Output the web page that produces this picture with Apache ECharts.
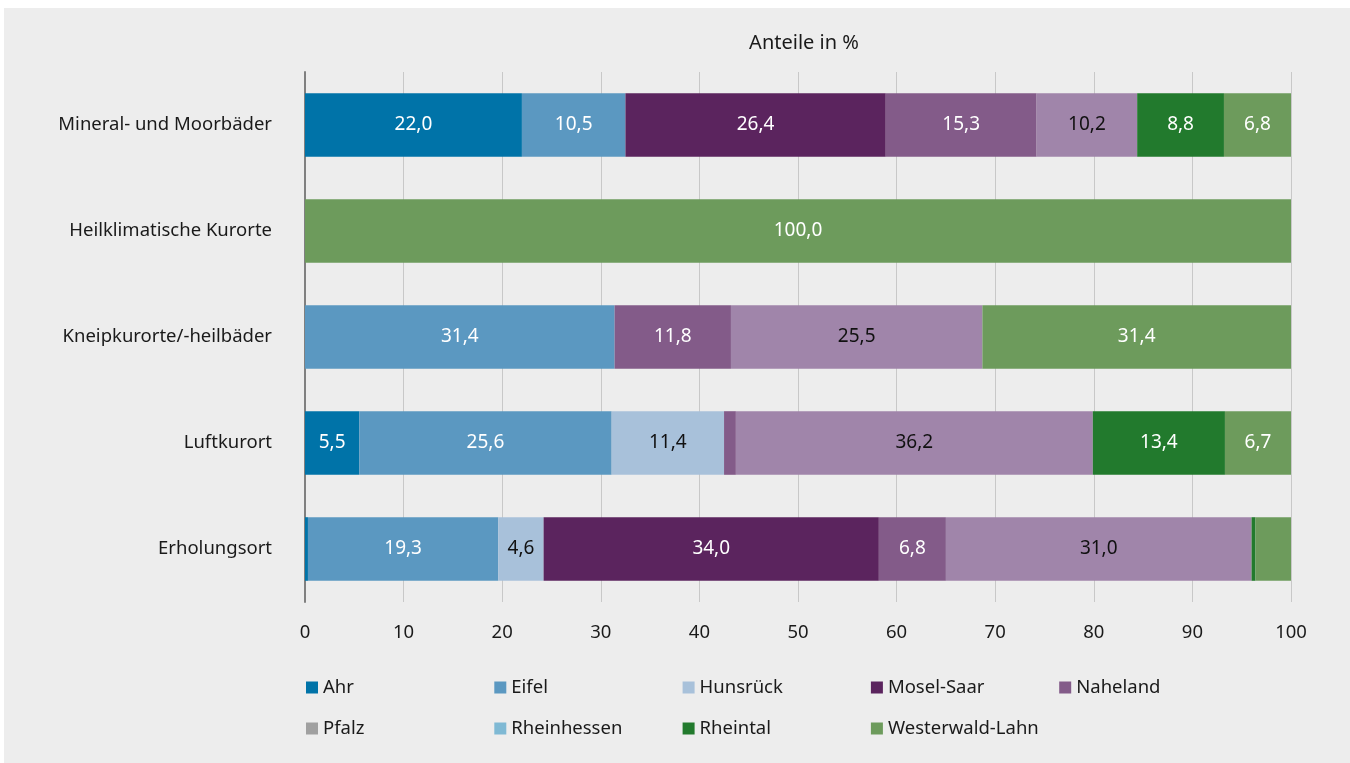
<!DOCTYPE html>
<html>
<head>
<meta charset="utf-8">
<script src="https://cdn.jsdelivr.net/npm/echarts@6/dist/echarts.min.js"></script>
<style>
html,body{margin:0;padding:0;background:#ffffff;}
#chart{position:absolute;left:4px;top:8px;width:1346px;height:755px;background:#ededed;}
</style>
</head>
<body>
<div id="chart"></div>
<script>
const categories = ['Mineral- und Moorbäder','Heilklimatische Kurorte','Kneipkurorte/-heilbäder','Luftkurort','Erholungsort'];
const seriesNames = ['Ahr','Eifel','Hunsrück','Mosel-Saar','Naheland','Pfalz','Rheinhessen','Rheintal','Westerwald-Lahn'];
const ahr        = [22.0, null, null, 5.5, 0.3];
const eifel      = [10.5, null, 31.4, 25.6, 19.3];
const hunsrueck  = [null, null, null, 11.4, 4.6];
const moselSaar  = [26.4, null, null, null, 34.0];
const naheland   = [15.3, null, 11.8, 1.2, 6.8];
const pfalz      = [10.2, null, 25.5, 36.2, 31.0];
const rheinhessen= [null, null, null, null, null];
const rheintal   = [8.8, null, null, 13.4, 0.4];
const westerwald = [6.8, 100.0, 31.4, 6.7, 3.7];
const xTicks = [0,10,20,30,40,50,60,70,80,90,100];

const values = [ahr, eifel, hunsrueck, moselSaar, naheland, pfalz, rheinhessen, rheintal, westerwald];
const barColors = ['#0073a8','#5b98c1','#a8c1da','#5b245e','#835b89','#a085aa','#7fb9d4','#227a2d','#6d9b5c'];
const legendColors = ['#0073a8','#5b98c1','#a8c1da','#5b245e','#835b89','#a0a0a0','#7fb9d4','#227a2d','#6d9b5c'];
const labelColors = ['#fff','#fff','#111','#fff','#fff','#111','#111','#fff','#fff'];
const FONT = 'Noto Sans';

const chart = echarts.init(document.getElementById('chart'));
const legends = seriesNames.map((n, i) => ({
  data: [{name: n, itemStyle: {color: legendColors[i]}}],
  left: 297 + (i % 5) * 188.3,
  top: 665 + Math.floor(i / 5) * 41,
  itemWidth: 12, itemHeight: 12, itemGap: 5,
  icon: 'rect',
  textStyle: {fontFamily: FONT, fontSize: 18.5, color: '#1a1a1a', padding: [0,0,0,0]}
}));
chart.setOption({
  backgroundColor: '#ededed',
  textStyle: {fontFamily: FONT},
  title: {
    text: 'Anteile in %', left: 795, top: 20, textAlign: 'center',
    textStyle: {fontFamily: FONT, fontSize: 20, fontWeight: 'normal', color: '#1a1a1a'}
  },
  legend: legends,
  grid: {left: 301, right: 59, top: 64, height: 530},
  xAxis: {
    type: 'value', min: 0, max: 100, interval: 10,
    axisLine: {show: false}, axisTick: {show: false},
    splitLine: {lineStyle: {color: '#c8c8c8', width: 1}},
    axisLabel: {fontFamily: FONT, fontSize: 18.5, color: '#1a1a1a', margin: 21,
      formatter: v => xTicks.indexOf(v) >= 0 ? String(v) : ''}
  },
  yAxis: {
    type: 'category', data: categories, inverse: true,
    axisLine: {show: true, lineStyle: {color: '#808080', width: 2}},
    axisTick: {show: false},
    axisLabel: {fontFamily: FONT, fontSize: 18.5, color: '#1a1a1a', margin: 33}
  },
  series: seriesNames.map((n, i) => ({
    name: n, type: 'bar', stack: 'total', data: values[i],
    barCategoryGap: '40%',
    itemStyle: {color: barColors[i]},
    label: {
      show: true, position: 'inside', fontFamily: FONT, fontSize: 19, color: labelColors[i],
      formatter: p => (p.value == null || p.value < 4) ? '' : p.value.toFixed(1).replace('.', ',')
    }
  }))
});
</script>
</body>
</html>
